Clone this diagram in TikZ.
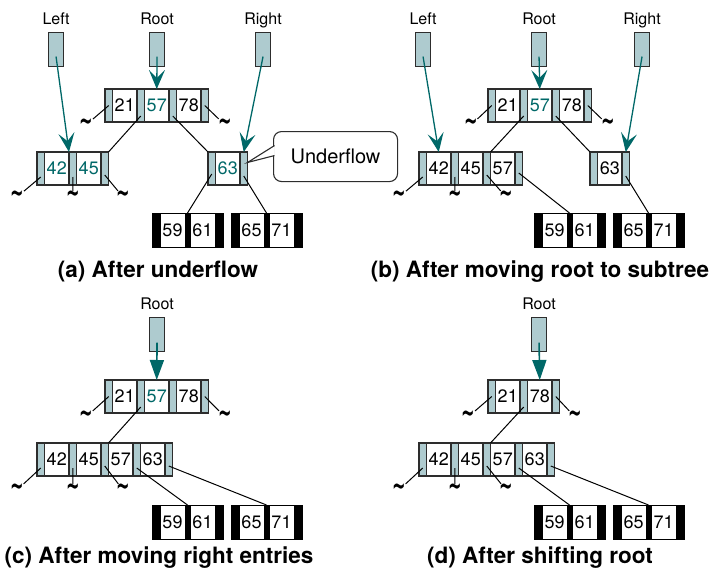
\documentclass[tikz,border=0pt]{standalone}
\usepackage{fontspec}
\setmainfont{TeX Gyre Heros}
\newfontfamily\markfont{DejaVu Sans}
\usetikzlibrary{arrows.meta, positioning}
\usepackage{xcolor}
\definecolor{ptrgray}{RGB}{174, 203, 207}
\definecolor{keyteal}{RGB}{0, 104, 104}
\definecolor{edgegray}{RGB}{45, 45, 45}

\tikzset{
  ptr/.style={draw=edgegray, line width=1.1pt, fill=ptrgray, minimum width=7.5pt, minimum height=33pt, inner sep=0pt, outer sep=0pt},
  entry/.style={draw=edgegray, line width=1.1pt, fill=white, minimum width=24.5pt, minimum height=33pt, inner sep=0pt, outer sep=0pt, font=\fontsize{18}{18}\selectfont},
  lend/.style={draw=black, line width=1pt, fill=black, minimum width=8pt, minimum height=34pt, inner sep=0pt, outer sep=0pt},
  lmid/.style={lend, minimum width=5pt},
  lentry/.style={entry, draw=black, line width=1pt, minimum width=25pt, minimum height=34pt},
  handle/.style={draw=edgegray, line width=1.1pt, fill=ptrgray, minimum width=15pt, minimum height=34pt, inner sep=0pt},
  lbl/.style={font=\fontsize{16}{16}\selectfont, inner sep=0pt},
  nul/.style={inner sep=0pt, font=\markfont\bfseries\fontsize{19}{19}\selectfont},
  link/.style={line width=1pt},
  seek/.style={draw=keyteal, line width=1.3pt, -{Stealth[length=19pt, width=16pt, inset=8pt]}},
  seekdown/.style={draw=keyteal, line width=1.6pt, -{Triangle[length=20pt, width=14pt]}},
  caption/.style={font=\fontsize{22.5}{22.5}\selectfont\bfseries},
  note/.style={draw=edgegray, line width=1.1pt, rounded corners=8pt, fill=white, minimum width=124pt, minimum height=50pt, font=\fontsize{20}{20}\selectfont}
}

\newcommand{\hot}[1]{\textcolor{keyteal}{#1}}
\newcommand{\nullmark}{\scalebox{0.85}[1.5]{\char"007E}}
\newcommand{\bnode}[3]{%
  \node[ptr, anchor=north west] (#1-0) at (#2) {};
  \foreach \k [count=\i, remember=\i as \j (initially 0)] in {#3} {
    \node[entry, right=0pt of #1-\j] (#1-e\i) {\k};
    \node[ptr, right=0pt of #1-e\i] (#1-\i) {};
  }
}
\newcommand{\bleaf}[4]{%
  \node[lend, anchor=north west] (#1-0) at (#2) {};
  \node[lentry, right=0pt of #1-0] (#1-e1) {#3};
  \node[lmid, right=0pt of #1-e1] (#1-1) {};
  \node[lentry, right=0pt of #1-1] (#1-e2) {#4};
  \node[lend, right=0pt of #1-e2] (#1-2) {};
}

\begin{document}
\begin{tikzpicture}[x=1pt, y=-1pt]
    \useasboundingbox (0,0) rectangle (717,576);

    \node[handle, anchor=north west] (a-left) at (48,32) {};
    \node[handle, anchor=north west] (a-root) at (149,32) {};
    \node[handle, anchor=north west] (a-right) at (255,32) {};
    \node[lbl, above=8pt of a-left.north, anchor=base] {Left};
    \node[lbl, above=8pt of a-root.north, anchor=base] {Root};
    \node[lbl, above=8pt of a-right.north, anchor=base] {Right};
    \bnode{a-top}{105,89}{21,\hot{57},78}
    \bnode{a-l}{37,152}{\hot{42},\hot{45}}
    \bnode{a-r}{208,152}{\hot{63}}
    \bleaf{a-lf1}{152,213}{59}{61}
    \bleaf{a-lf2}{231,213}{65}{71}
    \node[nul] (a-n1) at (86,125) {\nullmark};
    \node[nul] (a-n2) at (225,125) {\nullmark};
    \node[nul] (a-n3) at (17,197) {\nullmark};
    \node[nul] (a-n4) at (73,197) {\nullmark};
    \node[nul] (a-n5) at (123,197) {\nullmark};
    \node[note, anchor=north west] (a-note) at (273,131) {Underflow};
    \node[caption] (a-cap) at (158,272) {(a) After underflow};

    \draw[seek] ([yshift=-7pt]a-root.center) -- (a-top-e2.north);
    \draw[seek] ([yshift=-7pt]a-left.center) -- (a-l-e1.north east);
    \draw[seek] ([yshift=-7pt]a-right.center) -- (a-r-1.north);
    \draw[link] (a-top-0.center) -- (a-n1);
    \draw[link] (a-top-3.center) -- (a-n2);
    \draw[link] ([yshift=6pt]a-top-1.south) -- (a-l-2.north east);
    \draw[link] ([yshift=6pt]a-top-2.south) -- (a-r-0.north west);
    \draw[link] ([yshift=8pt]a-l-0.south) -- (a-n3);
    \draw[link] ([yshift=8pt]a-l-1.south) -- (a-n4);
    \draw[link] ([yshift=10pt]a-l-2.south) -- (a-n5);
    \draw[link] ([yshift=11pt]a-r-0.south) -- (a-lf1-1.north);
    \draw[link] ([yshift=9pt]a-r-1.south) -- (a-lf2-1.north);
    \draw[line width=1.1pt, draw=edgegray, fill=white] ([xshift=1.5pt, yshift=11pt]a-note.west) -- ([yshift=6pt]a-r-1.east) -- ([xshift=1.5pt, yshift=1pt]a-note.west);

    \node[handle, anchor=north west] (b-left) at (415,32) {};
    \node[handle, anchor=north west] (b-root) at (531,32) {};
    \node[handle, anchor=north west] (b-right) at (634,32) {};
    \node[lbl, above=8pt of b-left.north, anchor=base] {Left};
    \node[lbl, above=8pt of b-root.north, anchor=base] {Root};
    \node[lbl, above=8pt of b-right.north, anchor=base] {Right};
    \bnode{b-top}{488,89}{21,\hot{57},78}
    \bnode{b-l}{419,152}{42,45,57}
    \bnode{b-r}{590,152}{63}
    \bleaf{b-lf1}{534,213}{59}{61}
    \bleaf{b-lf2}{613,213}{65}{71}
    \node[nul] (b-n1) at (471,125) {\nullmark};
    \node[nul] (b-n2) at (608,125) {\nullmark};
    \node[nul] (b-n3) at (399,197) {\nullmark};
    \node[nul] (b-n4) at (455,197) {\nullmark};
    \node[nul] (b-n5) at (506,197) {\nullmark};
    \node[caption] (b-cap) at (540,272) {(b) After moving root to subtree};

    \draw[seek] ([yshift=-7pt]b-root.center) -- (b-top-e2.north);
    \draw[seek] ([yshift=-7pt]b-left.center) -- (b-l-e1.north);
    \draw[seek] ([yshift=-7pt]b-right.center) -- (b-r-1.north);
    \draw[link] (b-top-0.center) -- (b-n1);
    \draw[link] (b-top-3.center) -- (b-n2);
    \draw[link] ([yshift=6pt]b-top-1.south) -- (b-l-2.north east);
    \draw[link] ([yshift=6pt]b-top-2.south) -- (b-r-0.north west);
    \draw[link] ([yshift=8pt]b-l-0.south) -- (b-n3);
    \draw[link] ([yshift=8pt]b-l-1.south) -- (b-n4);
    \draw[link] ([yshift=10pt]b-l-2.south) -- (b-n5);
    \draw[link] ([yshift=12pt]b-l-3.south) -- (b-lf1-1.north);
    \draw[link] ([yshift=9pt]b-r-1.south) -- (b-lf2-1.north);

    \node[handle, anchor=north west] (c-root) at (149,317) {};
    \node[lbl, above=8pt of c-root.north, anchor=base] {Root};
    \bnode{c-top}{105,380}{21,\hot{57},78}
    \bnode{c-l}{37,443}{42,45,57,63}
    \bleaf{c-lf1}{152,505}{59}{61}
    \bleaf{c-lf2}{231,505}{65}{71}
    \node[nul] (c-n1) at (86,417) {\nullmark};
    \node[nul] (c-n2) at (225,417) {\nullmark};
    \node[nul] (c-n3) at (17,490) {\nullmark};
    \node[nul] (c-n4) at (73,490) {\nullmark};
    \node[nul] (c-n5) at (123,490) {\nullmark};
    \node[caption] (c-cap) at (159,558) {(c) After moving right entries};

    \draw[seekdown] ([yshift=-8pt]c-root.center) -- (c-top-e2.north);
    \draw[link] (c-top-0.center) -- (c-n1);
    \draw[link] (c-top-3.center) -- (c-n2);
    \draw[link] ([yshift=6pt]c-top-1.south) -- (c-l-2.north east);
    \draw[link] ([yshift=8pt]c-l-0.south) -- (c-n3);
    \draw[link] ([yshift=8pt]c-l-1.south) -- (c-n4);
    \draw[link] ([yshift=10pt]c-l-2.south) -- (c-n5);
    \draw[link] ([yshift=8pt]c-l-3.south) -- (c-lf1-1.north);
    \draw[link] ([yshift=10pt]c-l-4.south) -- (c-lf2-1.north);

    \node[handle, anchor=north west] (d-root) at (531,317) {};
    \node[lbl, above=8pt of d-root.north, anchor=base] {Root};
    \bnode{d-top}{488,380}{21,78}
    \bnode{d-l}{419,443}{42,45,57,63}
    \bleaf{d-lf1}{534,505}{59}{61}
    \bleaf{d-lf2}{613,505}{65}{71}
    \node[nul] (d-n1) at (468,417) {\nullmark};
    \node[nul] (d-n2) at (575,417) {\nullmark};
    \node[nul] (d-n3) at (399,490) {\nullmark};
    \node[nul] (d-n4) at (455,490) {\nullmark};
    \node[nul] (d-n5) at (506,490) {\nullmark};
    \node[caption] (d-cap) at (540,558) {(d) After shifting root};

    \draw[seekdown] ([yshift=-8pt]d-root.center) -- (d-top-e2.north);
    \draw[link] (d-top-0.center) -- (d-n1);
    \draw[link] (d-top-2.center) -- (d-n2);
    \draw[link] ([yshift=6pt]d-top-1.south) -- (d-l-2.north east);
    \draw[link] ([yshift=8pt]d-l-0.south) -- (d-n3);
    \draw[link] ([yshift=8pt]d-l-1.south) -- (d-n4);
    \draw[link] ([yshift=10pt]d-l-2.south) -- (d-n5);
    \draw[link] ([yshift=8pt]d-l-3.south) -- (d-lf1-1.north);
    \draw[link] ([yshift=10pt]d-l-4.south) -- (d-lf2-1.north);
\end{tikzpicture}
\end{document}
